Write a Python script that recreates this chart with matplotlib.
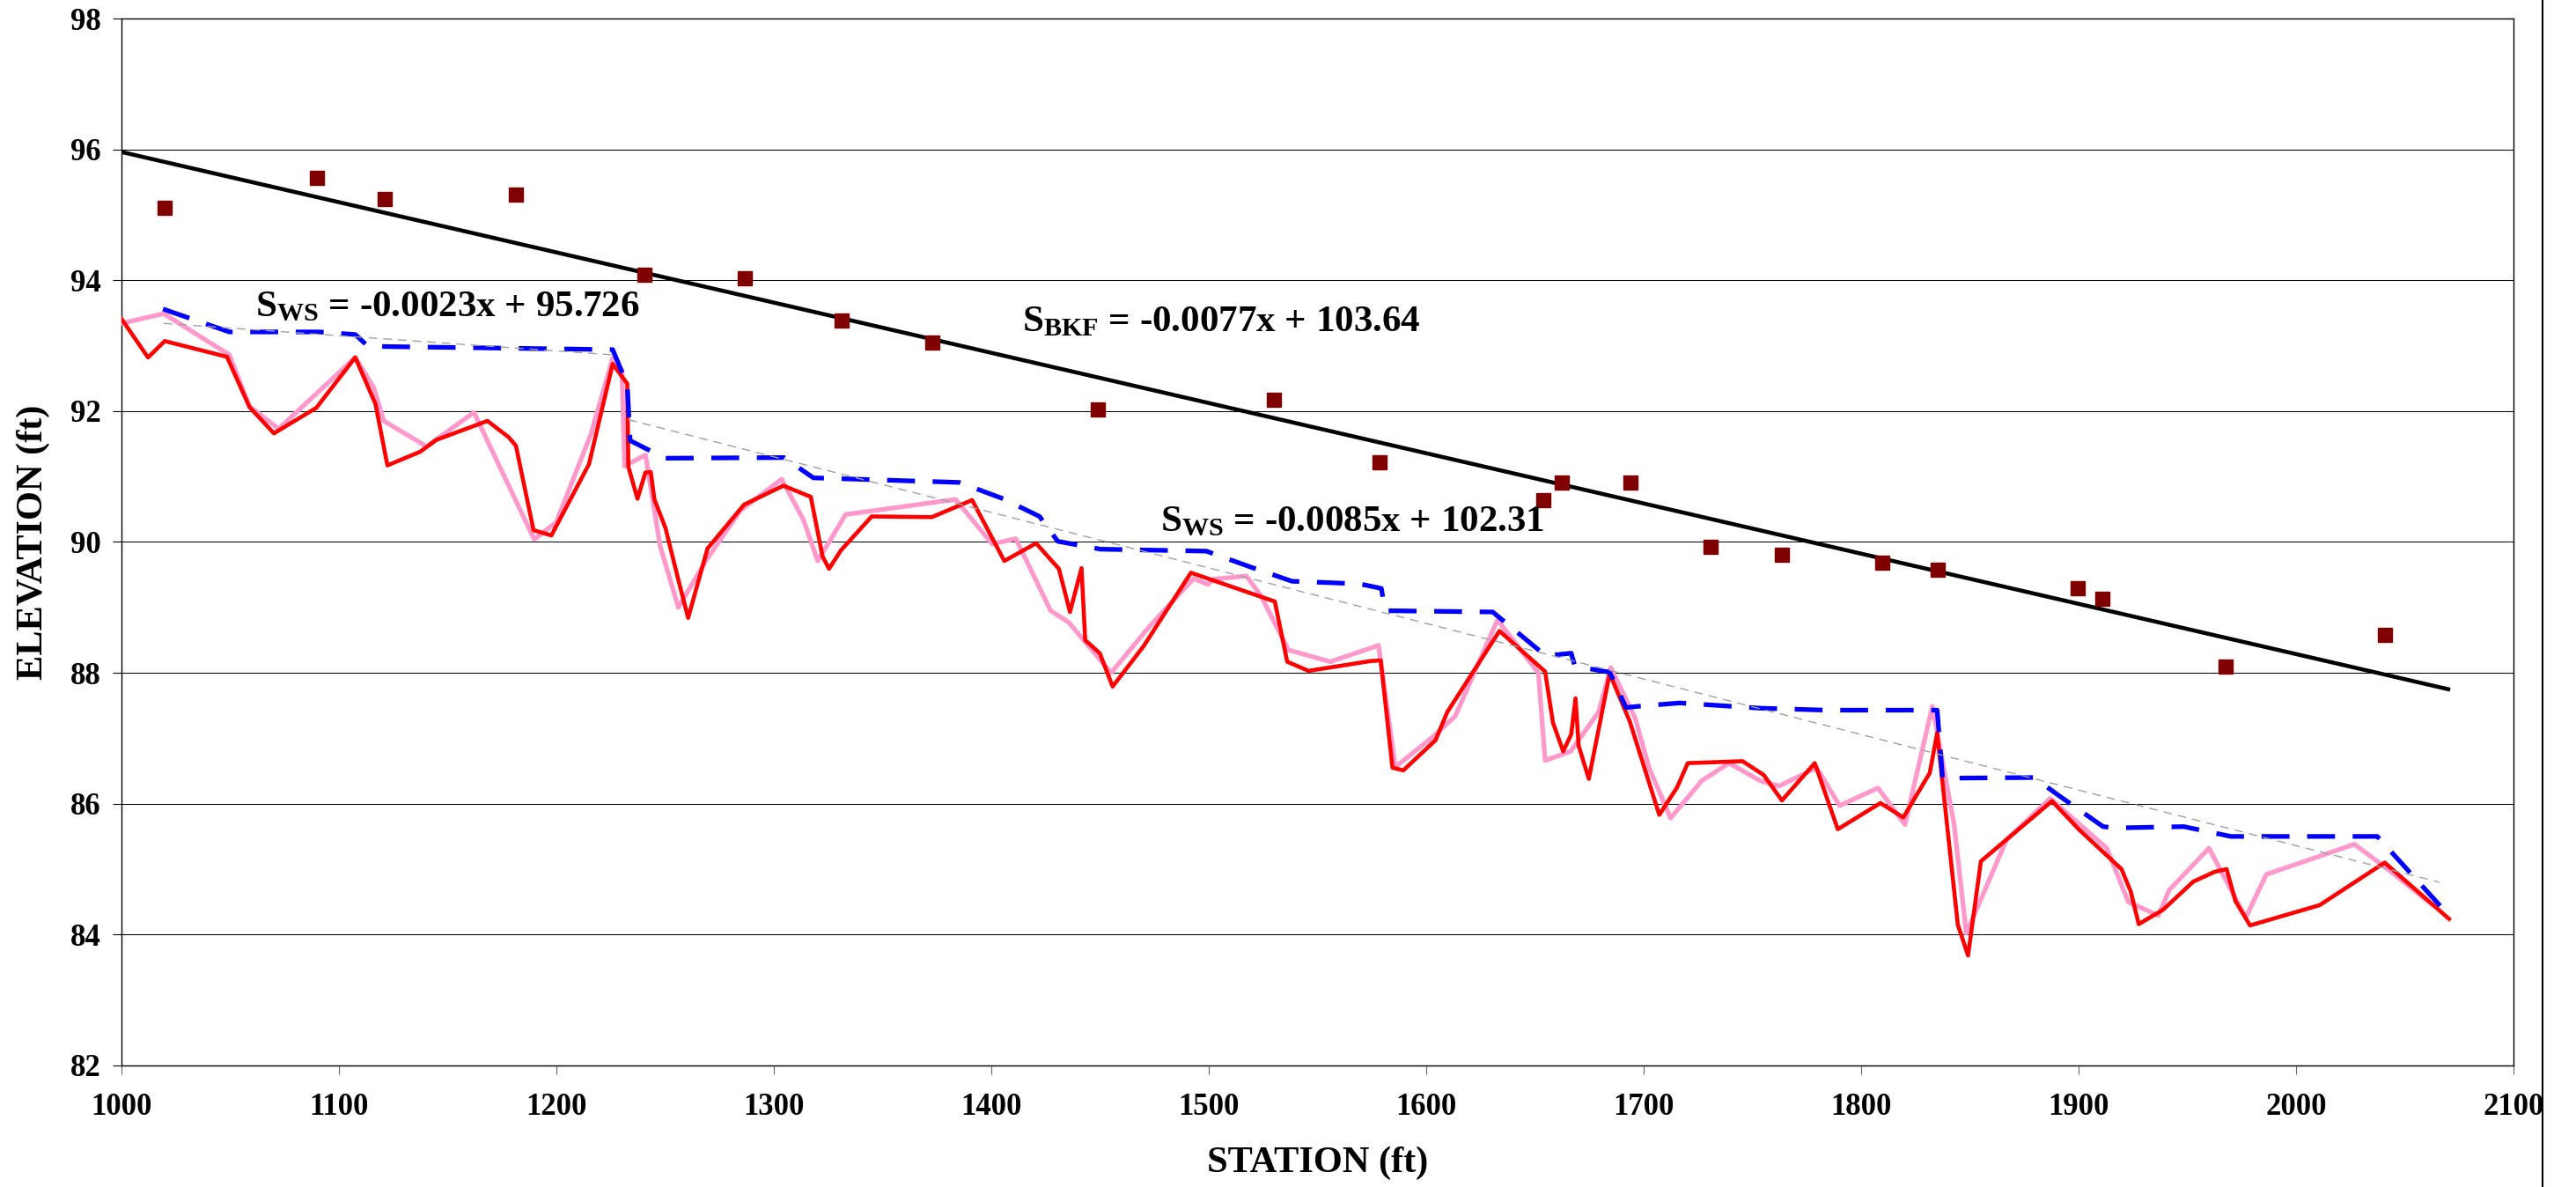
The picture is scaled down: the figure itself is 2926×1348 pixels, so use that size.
import matplotlib
matplotlib.use('Agg')
import matplotlib.pyplot as plt
from matplotlib.lines import Line2D

plt.rcParams['font.family'] = ['Liberation Serif', 'DejaVu Serif']
plt.rcParams['font.weight'] = 'bold'
plt.rcParams['mathtext.fontset'] = 'custom'
plt.rcParams['mathtext.rm'] = 'Liberation Serif:bold'
plt.rcParams['mathtext.bf'] = 'Liberation Serif:bold'
plt.rcParams['mathtext.it'] = 'Liberation Serif:bold'

# thalweg profile (red)
red_x = [1000, 1012.2, 1019.9, 1048.5, 1058.9, 1070.1, 1089.6, 1107.5, 1116.8, 1122.3,
         1137.4, 1144.8, 1168.3, 1178.1, 1181.4, 1189.5, 1197.7, 1215.0, 1225.9, 1232.6,
         1233.1, 1237.3, 1240.9, 1243.4, 1245.1, 1250.2, 1256.1, 1260.6, 1269.5, 1286.3,
         1304.4, 1317.0, 1322.4, 1325.4, 1330.8, 1345.0, 1372.7, 1391.2, 1406.0, 1420.6,
         1431.1, 1436.2, 1441.5, 1443.2, 1449.9, 1455.8, 1470.1, 1491.8, 1530.4, 1536.1,
         1545.9, 1574.4, 1579.1, 1584.5, 1589.5, 1604.3, 1609.7, 1633.7, 1654.7, 1658.3,
         1663.0, 1666.7, 1668.7, 1670.1, 1674.8, 1684.4, 1693.6, 1707.2, 1715.4, 1720.3,
         1745.5, 1755.2, 1763.6, 1778.7, 1789.3, 1808.9, 1819.4, 1831.6, 1835.0, 1844.5,
         1849.2, 1855.1, 1887.8, 1900.4, 1919.8, 1924.0, 1927.7, 1938.9, 1952.8, 1962.7,
         1968.1, 1972.2, 1978.9, 2010.9, 2040.8, 2070.4]
red_y = [93.41, 92.82, 93.07, 92.83, 92.06, 91.66, 92.05, 92.82, 92.11, 91.17,
         91.38, 91.56, 91.85, 91.60, 91.47, 90.18, 90.10, 91.19, 92.72, 92.42,
         91.15, 90.66, 91.06, 91.07, 90.65, 90.21, 89.42, 88.84, 89.90, 90.57,
         90.86, 90.69, 89.78, 89.59, 89.87, 90.39, 90.38, 90.64, 89.71, 89.98,
         89.59, 88.93, 89.60, 88.50, 88.30, 87.79, 88.41, 89.53, 89.09, 88.17,
         88.03, 88.18, 88.19, 86.55, 86.51, 86.97, 87.40, 88.64, 88.02, 87.24,
         86.80, 87.06, 87.61, 86.89, 86.38, 87.99, 87.26, 85.83, 86.25, 86.62,
         86.65, 86.44, 86.05, 86.62, 85.61, 86.01, 85.79, 86.47, 87.08, 84.15,
         83.68, 85.12, 86.04, 85.60, 85.00, 84.66, 84.16, 84.38, 84.81, 84.96,
         85.00, 84.51, 84.14, 84.45, 85.10, 84.24]

# second thalweg survey (pink)
pink_x = [1000, 1019.4, 1049.6, 1058.9, 1072.3, 1107.5, 1116.0, 1120.6, 1140.3, 1162.1,
          1189.8, 1199.9, 1215.8, 1225.9, 1230.1, 1231.4, 1241.0, 1247.7, 1256.1, 1268.7,
          1284.6, 1303.6, 1313.6, 1320.2, 1333.0, 1383.6, 1400.4, 1411.3, 1427.3, 1435.7,
          1455.1, 1472.0, 1493.0, 1499.7, 1502.0, 1517.3, 1524.0, 1536.6, 1555.9, 1578.1,
          1585.8, 1603.0, 1613.4, 1632.8, 1651.6, 1654.7, 1666.4, 1679.3, 1684.9, 1696.2,
          1702.5, 1712.4, 1726.7, 1739.3, 1753.6, 1762.3, 1779.6, 1790.1, 1807.8, 1820.2,
          1832.8, 1842.8, 1848.4, 1866.9, 1887.0, 1913.0, 1922.9, 1936.7, 1941.7, 1960.0,
          1976.9, 1986.4, 2026.9, 2042.2, 2062.5]
pink_y = [93.34, 93.49, 92.86, 92.07, 91.73, 92.82, 92.36, 91.85, 91.46, 91.98,
          90.04, 90.30, 91.64, 92.81, 92.63, 91.16, 91.33, 89.94, 89.00, 89.71,
          90.48, 90.96, 90.34, 89.71, 90.42, 90.65, 89.97, 90.05, 88.95, 88.77,
          88.00, 88.68, 89.44, 89.35, 89.43, 89.48, 89.18, 88.35, 88.17, 88.42,
          86.56, 87.02, 87.34, 88.81, 88.00, 86.66, 86.80, 87.40, 88.08, 87.30,
          86.55, 85.78, 86.35, 86.62, 86.35, 86.27, 86.55, 85.97, 86.24, 85.68,
          87.49, 85.68, 84.02, 85.45, 86.08, 85.32, 84.50, 84.29, 84.68, 85.32,
          84.26, 84.92, 85.38, 85.00, 84.46]

# water surface (blue dashed)
ws_x = [1019.1, 1049.6, 1090.8, 1107.5, 1113.4, 1225.9, 1232.6, 1233.9, 1241.0, 1250.2,
        1304.7, 1318.2, 1385.3, 1405.5, 1422.2, 1430.6, 1450.2, 1498.9, 1519.0, 1538.3,
        1569.4, 1579.4, 1581.1, 1630.6, 1655.0, 1666.7, 1668.4, 1684.4, 1691.9, 1698.1,
        1716.6, 1753.6, 1783.8, 1835.0, 1837.5, 1879.4, 1892.0, 1911.3, 1917.2, 1948.4,
        1970.1, 2037.4, 2066.3]
ws_y = [93.56, 93.21, 93.21, 93.17, 92.99, 92.94, 92.40, 91.55, 91.43, 91.28,
        91.29, 90.98, 90.91, 90.66, 90.39, 90.01, 89.89, 89.86, 89.62, 89.40,
        89.36, 89.29, 88.95, 88.93, 88.26, 88.30, 88.10, 88.01, 87.47, 87.49,
        87.54, 87.46, 87.43, 87.43, 86.39, 86.40, 86.10, 85.65, 85.63, 85.65,
        85.50, 85.50, 84.44]

# bankfull points
bkf_x = [1019.7, 1090.0, 1121.0, 1181.4, 1240.4, 1286.5, 1331.1, 1372.7, 1449.1, 1530.0,
         1578.4, 1654.0, 1662.3, 1694.0, 1731.0, 1763.6, 1809.7, 1835.4, 1899.6, 1910.8,
         1967.7, 2041.0]
bkf_y = [95.11, 95.56, 95.24, 95.31, 94.08, 94.03, 93.38, 93.05, 92.02, 92.17,
         91.22, 90.64, 90.91, 90.91, 89.93, 89.81, 89.68, 89.58, 89.30, 89.13,
         88.10, 88.58]

# trend lines (end points)
bkf_fit_x = [1000, 2070]
bkf_fit_y = [95.96, 87.75]
ws_fit1_x = [1019.4, 1225.9]
ws_fit1_y = [93.34, 92.86]
ws_fit2_x = [1233.0, 2066.0]
ws_fit2_y = [91.87, 84.80]

fig = plt.figure(figsize=(29.26, 13.48), dpi=100)
ax = fig.add_axes([0.04716, 0.1024, 0.92854, 0.88202])

ax.plot(pink_x, pink_y, color='#FF99CC', lw=3.8, zorder=3)
ax.plot(red_x, red_y, color='#FF0000', lw=3.3, zorder=4)
ax.plot(ws_x, ws_y, color='#0000FF', lw=3.8, dashes=(6, 3.8), zorder=5)
ax.plot(bkf_fit_x, bkf_fit_y, color='black', lw=3.3, zorder=6)
ax.plot(ws_fit1_x, ws_fit1_y, color='#A0A0A0', lw=1.0, dashes=(7, 5), zorder=7)
ax.plot(ws_fit2_x, ws_fit2_y, color='#A0A0A0', lw=1.0, dashes=(7, 5), zorder=7)
ax.plot(bkf_x, bkf_y, ls='none', marker='s', ms=11, color='#800000',
        mec='#800000', zorder=8)

ax.set_xlim(1000, 2100)
ax.set_ylim(82, 98)
ax.set_xticks(range(1000, 2101, 100))
ax.set_yticks(range(82, 99, 2))
ax.yaxis.grid(True, color='black', lw=0.75)
ax.set_axisbelow(True)
for s in ax.spines.values():
    s.set_color('black')
    s.set_linewidth(1.0)

ax.tick_params(axis='y', direction='out', length=7, width=0.8, labelsize=25, pad=10)
ax.tick_params(axis='x', direction='out', length=7, width=0.8, color='#666666',
               labelsize=25, pad=15)

ax.set_ylabel('ELEVATION (ft)', fontsize=30.5, fontweight='bold')
ax.set_xlabel('STATION (ft)', fontsize=30.5, fontweight='bold')
ax.yaxis.set_label_coords(-0.0368, 0.5)
ax.xaxis.set_label_coords(0.5, -0.0935)
ax.xaxis.label.set_va('center')
ax.yaxis.label.set_va('center')

eq_kw = dict(fontsize=31, fontweight='bold', ha='left', va='baseline', zorder=9)
ax.text(1061.5, 93.45, r'$\mathbf{S_{WS}}$ = -0.0023x + 95.726', **eq_kw)
ax.text(1414.2, 93.22, r'$\mathbf{S_{BKF}}$ = -0.0077x + 103.64', **eq_kw)
ax.text(1477.7, 90.17, r'$\mathbf{S_{WS}}$ = -0.0085x + 102.31', **eq_kw)

fig.add_artist(Line2D([2888 / 2926, 2888 / 2926], [0, 1], color='black', lw=1.5,
                      transform=fig.transFigure))

fig.savefig('out.png', dpi=100)
